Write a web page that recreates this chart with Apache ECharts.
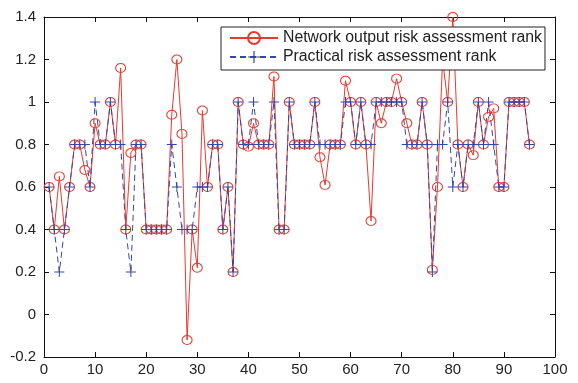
<!DOCTYPE html>
<html>
<head>
<meta charset="utf-8">
<script src="https://cdn.jsdelivr.net/npm/echarts@6/dist/echarts.min.js"></script>
<style>
  html, body { margin: 0; padding: 0; background: #fff; }
  #chart { width: 578px; height: 383px; }
</style>
</head>
<body>
<div id="chart"></div>
<script>
// sample index 1..95
const samples = []
for (let i = 1; i <= 95; i++) samples.push(i)

const networkRank = [
  0.6, 0.4, 0.65, 0.4, 0.6, 0.8, 0.8, 0.68, 0.6, 0.9,
  0.8, 0.8, 1.0, 0.8, 1.16, 0.4, 0.76, 0.8, 0.8, 0.4,
  0.4, 0.4, 0.4, 0.4, 0.94, 1.2, 0.85, -0.12, 0.4, 0.22,
  0.96, 0.6, 0.8, 0.8, 0.4, 0.6, 0.2, 1.0, 0.8, 0.79,
  0.9, 0.8, 0.8, 0.8, 1.12, 0.4, 0.4, 1.0, 0.8, 0.8,
  0.8, 0.8, 1.0, 0.74, 0.61, 0.8, 0.8, 0.8, 1.1, 1.0,
  0.8, 1.0, 0.8, 0.44, 1.0, 0.9, 1.0, 1.0, 1.11, 1.0,
  0.9, 0.8, 0.8, 1.0, 0.8, 0.21, 0.6, 1.2, 1.0, 1.4,
  0.8, 0.6, 0.8, 0.75, 1.0, 0.8, 0.93, 0.97, 0.6, 0.6,
  1.0, 1.0, 1.0, 1.0, 0.8
]

const practicalRank = [
  0.6, 0.4, 0.2, 0.4, 0.6, 0.8, 0.8, 0.8, 0.6, 1.0,
  0.8, 0.8, 1.0, 0.8, 0.8, 0.4, 0.2, 0.8, 0.8, 0.4,
  0.4, 0.4, 0.4, 0.4, 0.8, 0.6, 0.4, 0.4, 0.4, 0.6,
  0.6, 0.6, 0.8, 0.8, 0.4, 0.6, 0.2, 1.0, 0.8, 0.8,
  1.0, 0.8, 0.8, 0.8, 1.0, 0.4, 0.4, 1.0, 0.8, 0.8,
  0.8, 0.8, 1.0, 0.8, 0.8, 0.8, 0.8, 0.8, 1.0, 1.0,
  0.8, 1.0, 0.8, 0.8, 1.0, 1.0, 1.0, 1.0, 1.0, 1.0,
  0.8, 0.8, 0.8, 1.0, 0.8, 0.2, 0.8, 0.8, 1.0, 0.6,
  0.8, 0.6, 0.8, 0.8, 1.0, 0.8, 1.0, 0.8, 0.6, 0.6,
  1.0, 1.0, 1.0, 1.0, 0.8
]

const red = '#e8392e'
const blue = '#3446a8'
const font = 'Liberation Sans, Arial, Helvetica, sans-serif'
const plusPath = 'path://M0,4.5H10V5.5H0Z M4.5,0H5.5V10H4.5Z'

const pairs = (ys) => samples.map((x, i) => [x, ys[i]])

const axisCommon = {
  axisLine: { show: true, onZero: false, lineStyle: { color: '#111', width: 1 } },
  axisTick: { show: true, inside: true, length: 5, lineStyle: { color: '#111' } },
  splitLine: { show: false }
}

const chart = echarts.init(document.getElementById('chart'))
chart.setOption({
  backgroundColor: '#fff',
  animation: false,
  textStyle: { fontFamily: font },
  grid: { left: 44, right: 23, top: 17, bottom: 26 },
  legend: {
    orient: 'vertical',
    left: 221,
    top: 27,
    padding: [3, 3, 5, 8],
    itemGap: 3,
    itemWidth: 48,
    itemHeight: 15,
    backgroundColor: '#fff',
    borderColor: '#222',
    borderWidth: 1,
    textStyle: { fontSize: 15.8, color: '#222', fontFamily: font },
    data: ['Network output risk assessment rank', 'Practical risk assessment rank']
  },
  xAxis: [
    Object.assign({
      type: 'value', position: 'bottom', min: 0, max: 100, interval: 10,
      axisLabel: { fontSize: 15, color: '#222', margin: 5 }
    }, axisCommon),
    Object.assign({
      type: 'value', position: 'top', min: 0, max: 100, interval: 10,
      axisLabel: { show: false }
    }, axisCommon)
  ],
  yAxis: [
    Object.assign({
      type: 'value', position: 'left', min: -0.2, max: 1.4, interval: 0.2,
      axisLabel: { fontSize: 15, color: '#222', margin: 8 }
    }, axisCommon),
    Object.assign({
      type: 'value', position: 'right', min: -0.2, max: 1.4, interval: 0.2,
      axisLabel: { show: false }
    }, axisCommon)
  ],
  series: [
    {
      name: 'Network output risk assessment rank',
      type: 'line',
      data: pairs(networkRank),
      symbol: 'circle',
      symbolSize: [10, 9],
      itemStyle: { color: 'rgba(255,255,255,0)', borderColor: red, borderWidth: 1 },
      lineStyle: { color: red, width: 1 }
    },
    {
      name: 'Practical risk assessment rank',
      type: 'line',
      data: pairs(practicalRank),
      symbol: plusPath,
      symbolSize: 10,
      itemStyle: { color: blue, borderWidth: 0 },
      lineStyle: { color: blue, width: 1, type: [6, 4] }
    }
  ]
})
</script>
</body>
</html>
